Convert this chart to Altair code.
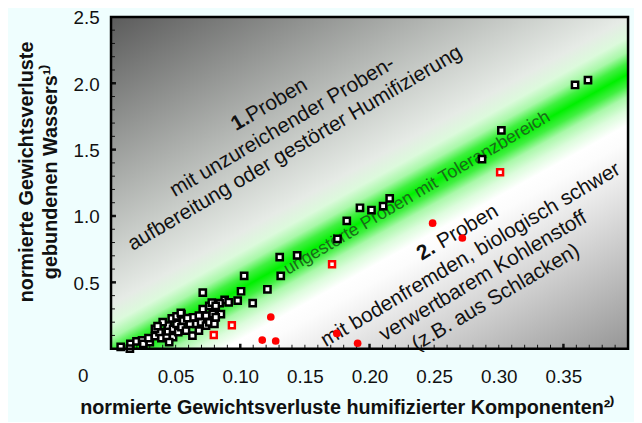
import altair as alt
import pandas as pd

# ---------------- data ----------------
black_x = [0.359, 0.369, 0.302, 0.287, 0.2156, 0.2105, 0.2015, 0.1926, 0.1824, 0.1752,
           0.144, 0.1305, 0.1313, 0.121, 0.103, 0.1006, 0.098, 0.1096, 0.0879, 0.084,
           0.0075, 0.015, 0.0146, 0.0197, 0.024, 0.025, 0.030, 0.029, 0.034, 0.0375,
           0.039, 0.043, 0.044, 0.044, 0.048, 0.048, 0.0507, 0.052, 0.047, 0.0507,
           0.0545, 0.0545, 0.0558, 0.058, 0.061, 0.063, 0.0634, 0.066, 0.068, 0.0697,
           0.0735, 0.0735, 0.076, 0.0787, 0.080, 0.071, 0.076, 0.078, 0.081, 0.071,
           0.085, 0.081, 0.068, 0.045, 0.034, 0.054, 0.040, 0.036, 0.059, 0.091]
black_y = [1.987, 2.024, 1.645, 1.429, 1.132, 1.074, 1.045, 1.062, 0.963, 0.827,
           0.703, 0.690, 0.549, 0.448, 0.549, 0.433, 0.363, 0.343, 0.368, 0.343,
           0.013, 0.037, 0.000, 0.055, 0.062, 0.037, 0.050, 0.080, 0.095, 0.125,
           0.080, 0.095, 0.130, 0.174, 0.150, 0.087, 0.187, 0.125, 0.229, 0.244,
           0.261, 0.162, 0.211, 0.137, 0.187, 0.099, 0.237, 0.187, 0.137, 0.199,
           0.249, 0.174, 0.199, 0.261, 0.187, 0.299, 0.323, 0.348, 0.323, 0.423,
           0.261, 0.237, 0.249, 0.050, 0.150, 0.270, 0.200, 0.170, 0.230, 0.350]

red_open_x = [0.301, 0.171, 0.0935, 0.0795]
red_open_y = [1.330, 0.636, 0.177, 0.103]

red_filled_x = [0.1236, 0.117, 0.1274, 0.1747, 0.1908, 0.2488, 0.2718]
red_filled_y = [0.239, 0.065, 0.058, 0.115, 0.041, 0.946, 0.834]

x_labels = [0.05, 0.10, 0.15, 0.20, 0.25, 0.30, 0.35]
y_labels = [0.5, 1.0, 1.5, 2.0, 2.5]
x_minor = [0.01, 0.02, 0.03, 0.04, 0.05, 0.06, 0.07, 0.08, 0.09, 0.11, 0.12, 0.13,
           0.14, 0.15, 0.16, 0.17, 0.18, 0.19, 0.21, 0.22, 0.23, 0.24, 0.25, 0.26,
           0.27, 0.28, 0.29, 0.30, 0.31, 0.32, 0.33, 0.34, 0.36, 0.37, 0.38, 0.39]
x_major = [0.10, 0.20, 0.35]
y_minor = [0.1, 0.2, 0.3, 0.4, 0.6, 0.7, 0.8, 0.9, 1.1, 1.2, 1.3, 1.4, 1.6, 1.7,
           1.8, 1.9, 2.1, 2.2, 2.3, 2.4]
y_major = [0.5, 1.0, 1.5, 2.0]

x_title = "normierte Gewichtsverluste humifizierter Komponenten²⁾"
y_title = ["normierte Gewichtsverluste", "gebundenen Wassers¹⁾"]

# annotation lines: text, anchor x, anchor y, dx, dy, bold, align, colour, size
ann_text = ["1.", "Proben", "mit unzureichender Proben-",
            "aufbereitung oder gestörter Humifizierung",
            "2.", "Proben", "mit bodenfremden, biologisch schwer",
            "verwertbarem Kohlenstoff", "(z.B. aus Schlacken)",
            "ungestörte Proben mit Toleranzbereich"]
ann_x = [0.1326, 0.1326, 0.1326, 0.1326, 0.288, 0.288, 0.288, 0.288, 0.288, 0.2368]
ann_y = [1.67, 1.67, 1.67, 1.67, 0.546, 0.546, 0.546, 0.546, 0.546, 1.171]
ann_dx = [-25, -25, 0, 0, -28, -22, 0, 0, 0, 0]
ann_dy = [-26, -26, 0, 25, -51, -51, -25, 0, 25, 0]
ann_bold = [True, False, False, False, True, False, False, False, False, False]
ann_align = ["right", "left", "center", "center", "right", "left", "center", "center", "center", "center"]
ann_color = ["#111111"] * 9 + ["#1b6b1b"]
ann_size = [21] * 9 + [18]

# ---------------- chart ----------------
W, H = 522, 335
FONT = "Liberation Sans"
XS = alt.Scale(domain=[0, 0.4], nice=False, zero=False)
YS = alt.Scale(domain=[0, 2.5], nice=False, zero=False)
one = pd.DataFrame({"k": [0]})

grad = alt.LinearGradient(
    gradient="linear", x1=0, y1=0, x2=0.922, y2=1.067,
    stops=[
        alt.GradientStop(offset=0.0, color="#5b5b5b"),
        alt.GradientStop(offset=0.465, color="#e6ebe6"),
        alt.GradientStop(offset=0.497, color="#dcfadc"),
        alt.GradientStop(offset=0.520, color="#a8f8a8"),
        alt.GradientStop(offset=0.538, color="#40f040"),
        alt.GradientStop(offset=0.556, color="#00f000"),
        alt.GradientStop(offset=0.574, color="#40f040"),
        alt.GradientStop(offset=0.592, color="#a8f8a8"),
        alt.GradientStop(offset=0.614, color="#dcfcdc"),
        alt.GradientStop(offset=0.638, color="#ffffff"),
        alt.GradientStop(offset=0.665, color="#fcfcfc"),
        alt.GradientStop(offset=1.0, color="#969696"),
    ],
)

x_axis = alt.Axis(values=x_labels, format=".2f", grid=False, ticks=False, domain=False,
                  labelFontSize=19, labelFont=FONT, labelColor="#111111",
                  labelPadding=19, labelFlush=False, labelOverlap=False,
                  title=x_title, titleFont=FONT, titleFontSize=20, titleFontWeight="bold",
                  titleColor="#111111", titleX=238, titleY=65, titleAlign="center",
                  titleBaseline="alphabetic")
y_axis = alt.Axis(values=y_labels, format=".1f", grid=False, ticks=False, domain=False,
                  labelFontSize=19, labelFont=FONT, labelColor="#111111",
                  labelPadding=12, labelFlush=False, labelOverlap=False, labelOffset=1,
                  title=y_title, titleFont=FONT, titleFontSize=20, titleFontWeight="bold",
                  titleColor="#111111", titleAngle=270, titleX=-79, titleY=156,
                  titleAlign="center", titleBaseline="alphabetic", titleLineHeight=24)

bg = alt.Chart(one).mark_rect(fill=grad).encode(
    x=alt.X(datum=0, scale=XS), x2=alt.datum(0.4),
    y=alt.Y(datum=0, scale=YS), y2=alt.datum(2.5),
)

xt_minor = alt.Chart(pd.DataFrame({"v": x_minor})).mark_rule(color="#111111", strokeWidth=1).encode(
    x=alt.X("v:Q", scale=XS), y=alt.value(H), y2=alt.value(H - 4))
xt_major = alt.Chart(pd.DataFrame({"v": x_major})).mark_rule(color="#111111", strokeWidth=2.5).encode(
    x=alt.X("v:Q", scale=XS), y=alt.value(H), y2=alt.value(H - 5))
yt_minor = alt.Chart(pd.DataFrame({"v": y_minor})).mark_rule(color="#111111", strokeWidth=1).encode(
    y=alt.Y("v:Q", scale=YS), x=alt.value(0), x2=alt.value(4))
yt_major = alt.Chart(pd.DataFrame({"v": y_major})).mark_rule(color="#111111", strokeWidth=2.5).encode(
    y=alt.Y("v:Q", scale=YS), x=alt.value(0), x2=alt.value(5))

texts = []
for t, ax, ay, dx, dy, b, al, c, s in zip(ann_text, ann_x, ann_y, ann_dx, ann_dy,
                                          ann_bold, ann_align, ann_color, ann_size):
    texts.append(
        alt.Chart(one).mark_text(text=t, angle=329.5, dx=dx, dy=dy, align=al, baseline="middle",
                                 font=FONT, fontSize=s, fontWeight="bold" if b else "normal",
                                 color=c).encode(
            x=alt.X(datum=ax, scale=XS), y=alt.Y(datum=ay, scale=YS)))

zero_label = alt.Chart(one).mark_text(text="0", dx=-28, align="center", baseline="top",
                                      font=FONT, fontSize=19, color="#111111").encode(
    x=alt.X(datum=0, scale=XS), y=alt.value(H + 19))

black = alt.Chart(pd.DataFrame({"x": black_x, "y": black_y})).mark_square(
    size=40, fill="white", stroke="black", strokeWidth=2.5, opacity=1).encode(
    x=alt.X("x:Q", scale=XS, axis=x_axis), y=alt.Y("y:Q", scale=YS, axis=y_axis))

red_open = alt.Chart(pd.DataFrame({"x": red_open_x, "y": red_open_y})).mark_square(
    size=36, fill="white", stroke="#ff0000", strokeWidth=2.5, opacity=1).encode(
    x=alt.X("x:Q", scale=XS), y=alt.Y("y:Q", scale=YS))

red_filled = alt.Chart(pd.DataFrame({"x": red_filled_x, "y": red_filled_y})).mark_circle(
    size=60, color="#ff0000", opacity=1).encode(
    x=alt.X("x:Q", scale=XS), y=alt.Y("y:Q", scale=YS))

frame = alt.Chart(one).mark_rect(fillOpacity=0, stroke="black", strokeWidth=2.5).encode(
    x=alt.X(datum=0, scale=XS), x2=alt.datum(0.4),
    y=alt.Y(datum=0, scale=YS), y2=alt.datum(2.5))

chart = alt.layer(bg, xt_minor, xt_major, yt_minor, yt_major, *texts, zero_label,
                  black, red_open, red_filled, frame).properties(
    width=W, height=H,
    autosize=alt.AutoSizeParams(type="none"),
    padding={"left": 104, "top": 7, "right": 6, "bottom": 72},
    background="#effefe",
).configure_view(stroke=None).configure_axis(grid=False, ticks=False, domain=False)

chart.save("out.html", embed_options={"renderer": "svg", "actions": False})
